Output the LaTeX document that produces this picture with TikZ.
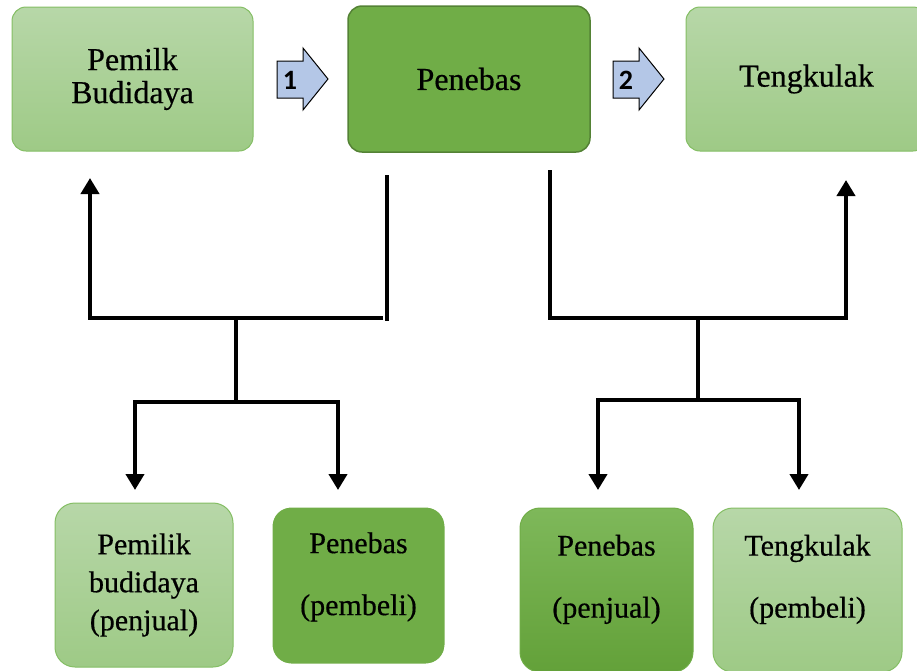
\documentclass[tikz,border=0pt]{standalone}
\usepackage{fontspec}
\setmainfont{Liberation Serif}
\newfontfamily\hurufbayang[FakeBold=0.5]{Liberation Serif}
\newfontfamily\angkafont{Carlito}
\usetikzlibrary{arrows.meta}
\definecolor{mudaAtas}{RGB}{183,215,168}
\definecolor{mudaBawah}{RGB}{158,202,134}
\definecolor{mudaGaris}{RGB}{132,190,100}
\definecolor{tuaIsi}{RGB}{112,173,71}
\definecolor{tuaAtas}{RGB}{126,184,90}
\definecolor{tuaBawah}{RGB}{99,161,57}
\definecolor{tuaGaris}{RGB}{84,130,53}
\definecolor{biruPanah}{RGB}{180,199,231}
\newcommand{\duabaris}[3]{\raisebox{#1}[\height][\depth]{\begin{tabular}{@{}c@{}}#2\\[24pt]#3\end{tabular}}}
\begin{document}
\begin{tikzpicture}[
			x=1pt, y=-1pt,
			kotak/.style={rounded corners=14pt, align=center, inner sep=0pt},
			muda/.style={kotak, draw=mudaGaris, line width=1pt, top color=mudaAtas, bottom color=mudaBawah},
			tua/.style={kotak, draw=tuaGaris, line width=1.5pt, fill=tuaIsi},
			besar/.style={font=\hurufbayang\fontsize{32}{33}\selectfont},
			kecil/.style={font=\hurufbayang\fontsize{30}{38}\selectfont},
			panah/.style={draw=black, line width=1pt, fill=biruPanah, line join=miter},
			angka/.style={font=\angkafont\bfseries\fontsize{28}{28}\selectfont, inner sep=0pt},
			garis/.style={line width=4.5pt},
			ujung/.style={-{Triangle[width=18pt,length=16pt]}}
			]
			\useasboundingbox (0,0) rectangle (917,670);
			% baris atas
			\node[muda, besar, minimum width=241pt, minimum height=144pt] (pemilik) at (132.5,79) {Pemilk\\Budidaya};
			\node[tua, besar, minimum width=242pt, minimum height=146pt] (penebas) at (469,79) {Penebas};
			\node[muda, besar, minimum width=241pt, minimum height=144pt] (tengkulak) at (806.5,79) {Tengkulak};
			\foreach \geser/\nomor/\nama in {0/1/satu, 336/2/dua} {
				\begin{scope}[shift={(\geser,0)}]
					\draw[panah] (277,61) -- (303,61) -- (303,48) -- (328,79)
					-- (303,110) -- (303,98) -- (277,98) -- cycle;
					\node[angka] (\nama) at (290,80) {\nomor};
				\end{scope}
			}
			% baris bawah
			\node[muda, kecil, minimum width=178pt, minimum height=164pt, rounded corners=20pt] (penjual1) at (144,585) {Pemilik\\budidaya\\(penjual)};
			\node[tua, kecil, draw=white, line width=3pt, minimum width=175pt, minimum height=159pt, rounded corners=20pt] (pembeli1) at (358.5,585.5) {\duabaris{9pt}{Penebas}{(pembeli)}};
			\node[kotak, kecil, draw=tuaIsi, line width=1pt, top color=tuaAtas, bottom color=tuaBawah, minimum width=173pt, minimum height=164pt, rounded corners=20pt] (penjual2) at (606.5,590) {\duabaris{11pt}{Penebas}{(penjual)}};
			\node[muda, kecil, minimum width=189pt, minimum height=164pt, rounded corners=20pt] (pembeli2) at (807.5,590) {\duabaris{11pt}{Tengkulak}{(pembeli)}};
			% cabang kiri
			\coordinate (kiriA) at (90,178);
			\coordinate (kiriB1) at (387,175);
			\coordinate (kiriB2) at (387,321);
			\coordinate (kiriE) at (383,318);
			\coordinate (kiriJ) at (236,318);
			\coordinate (kiriK) at (236,402);
			\coordinate (kiriD1) at (135,490);
			\coordinate (kiriD2) at (338,490);
			\draw[garis, ujung] (kiriE) -- (kiriJ) -| (kiriA);
			\draw[garis] (kiriB1) -- (kiriB2);
			\draw[garis] (kiriJ) -- (kiriK);
			\draw[garis, ujung] (kiriK) -| (kiriD1);
			\draw[garis, ujung] (kiriK) -| (kiriD2);
			% cabang kanan
			\coordinate (kananA) at (550,170);
			\coordinate (kananB) at (846,180);
			\coordinate (kananJ) at (698,318);
			\coordinate (kananK) at (698,400);
			\coordinate (kananD1) at (598,490);
			\coordinate (kananD2) at (799,490);
			\draw[garis, ujung] (kananA) |- (kananJ) -| (kananB);
			\draw[garis] (kananJ) -- (kananK);
			\draw[garis, ujung] (kananK) -| (kananD1);
			\draw[garis, ujung] (kananK) -| (kananD2);
		\end{tikzpicture}
\end{document}
